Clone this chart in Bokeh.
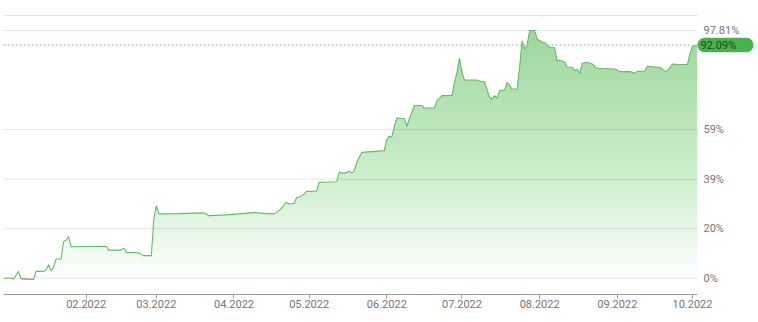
import numpy as np
import pandas as pd
from bokeh.plotting import figure
from bokeh.models import FixedTicker, DatetimeTickFormatter, Range1d
from bokeh.core.properties import value
from bokeh.embed import file_html
from bokeh.resources import INLINE

dates = [
    "2021-12-30", "2022-01-02", "2022-01-03", "2022-01-05", "2022-01-06", "2022-01-11",
    "2022-01-12", "2022-01-15", "2022-01-16", "2022-01-17", "2022-01-18", "2022-01-19",
    "2022-01-20", "2022-01-22", "2022-01-23", "2022-01-24", "2022-01-25", "2022-01-26",
    "2022-02-09", "2022-02-10", "2022-02-15", "2022-02-16", "2022-02-17", "2022-02-22",
    "2022-02-24", "2022-02-27", "2022-02-28", "2022-03-01", "2022-03-02", "2022-03-10",
    "2022-03-20", "2022-03-22", "2022-03-29", "2022-04-09", "2022-04-13", "2022-04-17",
    "2022-04-19", "2022-04-22", "2022-04-23", "2022-04-25", "2022-04-26", "2022-04-27",
    "2022-04-29", "2022-04-30", "2022-05-04", "2022-05-05", "2022-05-12", "2022-05-13",
    "2022-05-15", "2022-05-17", "2022-05-18", "2022-05-19", "2022-05-20", "2022-05-22",
    "2022-05-31", "2022-06-01", "2022-06-02", "2022-06-03", "2022-06-04", "2022-06-05",
    "2022-06-08", "2022-06-09", "2022-06-10", "2022-06-12", "2022-06-15", "2022-06-16",
    "2022-06-20", "2022-06-21", "2022-06-23", "2022-06-27", "2022-06-28", "2022-06-29",
    "2022-06-30", "2022-07-01", "2022-07-02", "2022-07-07", "2022-07-08", "2022-07-10",
    "2022-07-12", "2022-07-13", "2022-07-14", "2022-07-15", "2022-07-16", "2022-07-18",
    "2022-07-19", "2022-07-21", "2022-07-23", "2022-07-24", "2022-07-25", "2022-07-26",
    "2022-07-27", "2022-07-28", "2022-07-30", "2022-07-31", "2022-08-02", "2022-08-03",
    "2022-08-04", "2022-08-05", "2022-08-07", "2022-08-08", "2022-08-09", "2022-08-11",
    "2022-08-12", "2022-08-14", "2022-08-15", "2022-08-16", "2022-08-17", "2022-08-18",
    "2022-08-20", "2022-08-22", "2022-08-24", "2022-08-31", "2022-09-02", "2022-09-06",
    "2022-09-08", "2022-09-09", "2022-09-12", "2022-09-13", "2022-09-18", "2022-09-20",
    "2022-09-21", "2022-09-23", "2022-09-26", "2022-09-29", "2022-09-30", "2022-10-01",
    "2022-10-02", "2022-10-03",
]

values = [
    0.0, 0.0, -0.3, 2.7, -0.2, -0.5,
    2.7, 2.7, 3.2, 5.3, 3.0, 4.3,
    7.6, 7.6, 14.5, 15.0, 16.4, 12.4,
    12.6, 11.1, 11.1, 11.9, 10.2, 10.0,
    8.9, 8.9, 23.4, 28.6, 25.4, 25.5,
    25.8, 24.7, 25.0, 25.9, 25.6, 25.4,
    26.7, 30.0, 29.3, 29.5, 31.9, 32.0,
    33.3, 34.3, 34.4, 37.9, 38.1, 41.8,
    41.4, 42.2, 41.6, 42.4, 45.8, 49.7,
    50.4, 54.8, 56.0, 55.8, 60.0, 63.3,
    63.0, 60.0, 63.0, 68.2, 68.2, 67.2,
    67.2, 70.1, 72.1, 72.2, 77.4, 81.3,
    87.0, 81.3, 78.3, 78.3, 77.8, 77.6,
    71.4, 70.8, 72.1, 71.0, 74.1, 74.3,
    77.4, 74.7, 74.7, 83.3, 93.8, 90.6,
    92.0, 97.81, 97.81, 94.5, 93.2, 93.2,
    92.0, 91.2, 91.0, 85.8, 86.2, 85.3,
    83.4, 83.3, 82.0, 82.5, 80.9, 84.9,
    85.3, 84.6, 82.9, 82.6, 81.6, 81.6,
    80.9, 81.7, 81.8, 83.7, 83.2, 81.7,
    82.0, 84.6, 84.4, 84.4, 88.6, 91.5,
    91.9, 92.09,
]

x_tick_dates = ["2022-02-01", "2022-03-01", "2022-04-01", "2022-05-01", "2022-06-01",
                "2022-07-01", "2022-08-01", "2022-09-01", "2022-10-01"]
y_ticks = [0.0, 19.562, 39.124, 58.686, 97.81]
y_tick_labels = ["0%", "20%", "39%", "59%", "97.81%"]


def to_ms(ds):
    return pd.to_datetime(ds).values.astype("datetime64[ms]").astype("int64").astype(float)


x_ms = to_ms(dates)
vals = np.array(values, dtype=float)
tick_ms = list(to_ms(x_tick_dates))
last_val = float(vals[-1])

# layout (pixels)
W, H = 758, 322
BL, BT, BB = 3, 12, 28
DATA_W = 694                      # pixels used by the data, label column to the right
FRAME_W, FRAME_H = W - BL, H - BT - BB
PX_PER_PCT = 2.532
Y_TOP = 265.7 / PX_PER_PCT        # frame top
Y_BOTTOM = -16.3 / PX_PER_PCT     # frame bottom
TOP_LINE = 262.7 / PX_PER_PCT     # thin line along the chart top

x0, x1 = float(x_ms[0]), float(x_ms[-1])
ms_per_px = (x1 - x0) / DATA_W
val_per_px = (Y_TOP - Y_BOTTOM) / FRAME_H

p = figure(width=W, height=H, x_axis_type="datetime",
           output_backend="svg", toolbar_location=None,
           x_range=Range1d(x0, x0 + FRAME_W * ms_per_px), y_range=Range1d(Y_BOTTOM, Y_TOP),
           min_border_left=BL, min_border_right=0, min_border_top=BT, min_border_bottom=BB)
p.outline_line_color = None
p.background_fill_color = "white"
p.border_fill_color = "white"
p.yaxis.visible = False
p.xgrid.visible = False
p.ygrid.visible = False

# horizontal grid lines over the data width
p.segment(x0=x0, x1=x1, y0=y_ticks, y1=y_ticks, line_color="#e6e6e6", line_width=1)
p.segment(x0=[x0], x1=[x1], y0=[TOP_LINE], y1=[TOP_LINE], line_color="#e3e3e3", line_width=1)


def clip_above(xs, vs, level):
    ox, oy = [], []
    for i in range(len(xs)):
        if i > 0:
            v0, v1 = vs[i - 1], vs[i]
            if (v0 - level) * (v1 - level) < 0:
                t = (level - v0) / (v1 - v0)
                ox.append(xs[i - 1] + t * (xs[i] - xs[i - 1]))
                oy.append(level)
        ox.append(xs[i])
        oy.append(max(vs[i], level))
    return ox, oy


# gradient fill built from stacked translucent layers
vmax = float(vals.max())
N = 40
alpha = 1 - 0.48 ** (1.0 / N)
for k in range(N):
    L = vmax * k / N
    fx, fy = clip_above(x_ms, vals, L)
    p.varea(x=fx, y1=L, y2=fy, fill_color="#4fb84f", fill_alpha=alpha)

p.line(x_ms, vals, line_color="#66bb6a", line_width=1.1)

# negative part in red
red = np.full(len(vals), np.nan)
for i, v in enumerate(vals):
    neigh_neg = (i > 0 and vals[i - 1] < 0) or (i < len(vals) - 1 and vals[i + 1] < 0)
    if v < 0 or (v <= 0 and neigh_neg):
        red[i] = v
p.line(x_ms, red, line_color="#e57373", line_width=1.1)

# dotted line at last value
p.segment(x0=[x0], x1=[x1], y0=[last_val], y1=[last_val], line_color="#a5d6a7",
          line_width=1.5, line_dash="2 2")

# value labels to the right of the data
p.text(x=[x1] * len(y_ticks), y=y_ticks, text=y_tick_labels, x_offset=6,
       text_align="left", text_baseline="middle", text_font=value("Roboto"),
       text_font_size="11px", text_color="#757575")

# rounded badge for the last value
bw, bh = 56.0, 14.6
r = bh / 2
bx, by = [], []
for a in np.linspace(-np.pi / 2, np.pi / 2, 16):
    bx.append(bw - r + r * np.cos(a)); by.append(r * np.sin(a))
for a in np.linspace(np.pi / 2, 3 * np.pi / 2, 16):
    bx.append(r + r * np.cos(a)); by.append(r * np.sin(a))
p.patch([x1 + px * ms_per_px for px in bx], [last_val + py * val_per_px for py in by],
        fill_color="#4caf50", line_color=None)
p.text(x=[x1], y=[last_val], text=[f"{last_val:.2f}%"], x_offset=3,
       text_align="left", text_baseline="middle", text_font=value("Roboto"),
       text_font_size="11px", text_color="#1b4d1b")

fmt = "%m.%Y"
p.xaxis.ticker = FixedTicker(ticks=tick_ms)
p.xaxis.bounds = (x0, x1)
p.xaxis.formatter = DatetimeTickFormatter(milliseconds=fmt, seconds=fmt, minsec=fmt, minutes=fmt,
                                          hourmin=fmt, hours=fmt, days=fmt, months=fmt, years=fmt)
p.xaxis.axis_line_color = "#9e9e9e"
p.xaxis.major_tick_line_color = "#9e9e9e"
p.xaxis.minor_tick_line_color = None
p.xaxis.major_tick_in = 0
p.xaxis.major_tick_out = 4
p.xaxis.major_label_standoff = 1
p.xaxis.major_label_text_font = "Roboto"
p.xaxis.major_label_text_font_size = "11px"
p.xaxis.major_label_text_color = "#757575"

open("out.html", "w").write(file_html(p, INLINE))
